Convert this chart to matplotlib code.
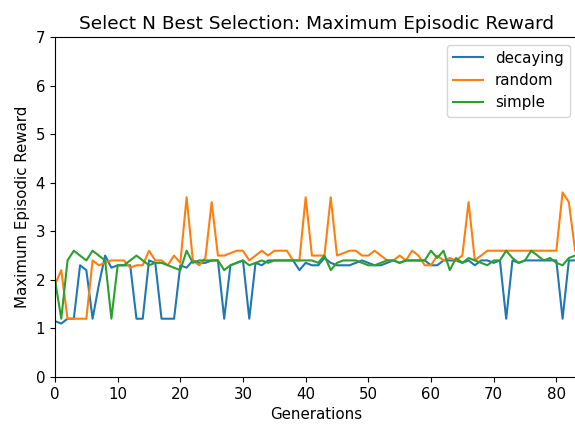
import matplotlib
matplotlib.use("Agg")
import matplotlib.pyplot as plt

generations = list(range(84))

decaying = [
    1.15, 1.1, 1.2, 1.2, 2.3, 2.2, 1.2, 1.9, 2.5, 2.25,
    2.3, 2.3, 2.3, 1.2, 1.2, 2.4, 2.35, 1.2, 1.2, 1.2,
    2.3, 2.25, 2.4, 2.35, 2.35, 2.4, 2.4, 1.2, 2.3, 2.35,
    2.4, 1.2, 2.35, 2.3, 2.4, 2.4, 2.4, 2.4, 2.4, 2.2,
    2.35, 2.3, 2.3, 2.45, 2.35, 2.3, 2.3, 2.3, 2.35, 2.4,
    2.35, 2.3, 2.3, 2.35, 2.4, 2.35, 2.4, 2.4, 2.4, 2.4,
    2.3, 2.3, 2.4, 2.4, 2.4, 2.35, 2.4, 2.3, 2.4, 2.4,
    2.35, 2.4, 1.2, 2.4, 2.35, 2.4, 2.4, 2.4, 2.4, 2.4,
    2.4, 1.2, 2.4, 2.4,
]

random_sel = [
    1.9, 2.2, 1.2, 1.2, 1.2, 1.2, 2.4, 2.3, 2.35, 2.4,
    2.4, 2.4, 2.25, 2.3, 2.3, 2.6, 2.4, 2.4, 2.3, 2.5,
    2.35, 3.7, 2.4, 2.3, 2.45, 3.6, 2.5, 2.5, 2.55, 2.6,
    2.6, 2.4, 2.5, 2.6, 2.5, 2.6, 2.6, 2.6, 2.4, 2.4,
    3.7, 2.5, 2.5, 2.5, 3.7, 2.5, 2.55, 2.6, 2.6, 2.5,
    2.5, 2.6, 2.5, 2.4, 2.4, 2.5, 2.4, 2.6, 2.5, 2.3,
    2.3, 2.5, 2.4, 2.45, 2.4, 2.5, 3.6, 2.4, 2.5, 2.6,
    2.6, 2.6, 2.6, 2.6, 2.6, 2.6, 2.6, 2.6, 2.6, 2.6,
    2.6, 3.8, 3.6, 2.6,
]

simple = [
    2.0, 1.2, 2.4, 2.6, 2.5, 2.4, 2.6, 2.5, 2.4, 1.2,
    2.3, 2.3, 2.4, 2.5, 2.4, 2.3, 2.35, 2.35, 2.3, 2.25,
    2.2, 2.6, 2.35, 2.4, 2.4, 2.4, 2.4, 2.2, 2.3, 2.35,
    2.4, 2.3, 2.35, 2.4, 2.35, 2.4, 2.4, 2.4, 2.4, 2.4,
    2.4, 2.4, 2.35, 2.5, 2.2, 2.35, 2.4, 2.4, 2.4, 2.35,
    2.3, 2.3, 2.35, 2.4, 2.4, 2.35, 2.4, 2.4, 2.4, 2.4,
    2.6, 2.45, 2.6, 2.2, 2.45, 2.35, 2.45, 2.4, 2.35, 2.3,
    2.4, 2.4, 2.6, 2.45, 2.35, 2.4, 2.6, 2.5, 2.4, 2.45,
    2.35, 2.3, 2.45, 2.5,
]

plt.rcParams["font.size"] = 10.8

fig = plt.figure(figsize=(5.75, 4.25), dpi=100)
ax = fig.add_axes([55 / 575, 48 / 425, 522 / 575, 340 / 425])

ax.plot(generations, decaying, label="decaying")
ax.plot(generations, random_sel, label="random")
ax.plot(generations, simple, label="simple")

ax.set_xlim(0, 83.3)
ax.set_ylim(0, 7)
ax.set_xticks(range(0, 81, 10))
ax.set_title("Select N Best Selection: Maximum Episodic Reward", fontsize=13.3)
ax.set_xlabel("Generations")
ax.set_ylabel("Maximum Episodic Reward")
ax.legend(loc="upper right")

fig.savefig("out.png", dpi=100)
